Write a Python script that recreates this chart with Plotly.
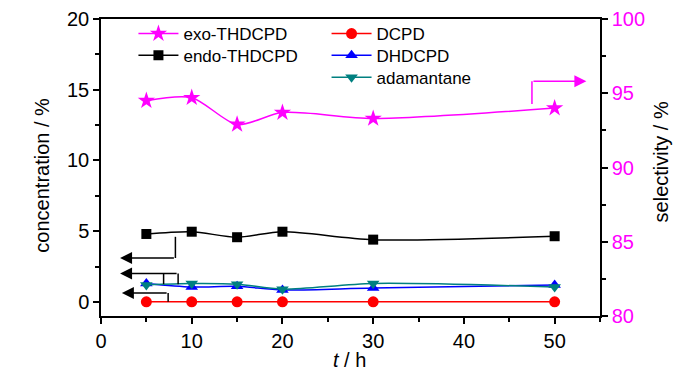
import plotly.graph_objects as go

t = [5, 10, 15, 20, 30, 50]
exo_sel = [94.5, 94.7, 92.9, 93.7, 93.3, 94.0]
endo = [4.8, 4.96, 4.57, 4.96, 4.4, 4.64]
dcpd = [0, 0, 0, 0, 0, 0]
dhdcpd = [1.3, 1.05, 1.1, 0.84, 0.98, 1.2]
adam = [1.2, 1.3, 1.25, 0.9, 1.3, 1.05]

FONT = "Liberation Sans, Arial, sans-serif"
fig = go.Figure()

def tr(y, name, color, symbol, size, legend, yaxis="y"):
    fig.add_trace(go.Scatter(
        x=t, y=y, name=name, mode="lines+markers", yaxis=yaxis, legend=legend,
        showlegend=True,
        line=dict(color=color, width=1.5, shape="spline", smoothing=0.8),
        marker=dict(symbol=symbol, size=size, color=color)))

tr(exo_sel, "exo-THDCPD", "#FF00FF", "star", 13, "legend", yaxis="y2")
tr(endo, "endo-THDCPD", "black", "square", 10, "legend2")
tr(dcpd, "DCPD", "#FF0000", "circle", 11, "legend3")
tr(dhdcpd, "DHDCPD", "#0000FF", "triangle-up", 11, "legend4")
tr(adam, "adamantane", "#008080", "triangle-down", 11, "legend5")

# connector lines
def seg(x0, y0, x1, y1, color="black", yref="y"):
    fig.add_shape(type="line", x0=x0, y0=y0, x1=x1, y1=y1, xref="x", yref=yref,
                  line=dict(color=color, width=1.5))

def arrow(x, y, ax, ay, color="black", yref="y"):
    fig.add_annotation(x=x, y=y, ax=ax, ay=ay, xref="x", yref=yref, axref="x", ayref=yref,
                       showarrow=True, arrowhead=2, arrowsize=1.6, arrowwidth=1.5,
                       arrowcolor=color, text="")

seg(8.2, 4.6, 8.2, 3.1)
arrow(2.1, 3.1, 8.2, 3.1)
seg(6.9, 2.0, 6.9, 1.25)
seg(8.5, 2.0, 8.5, 1.25)
arrow(2.1, 2.0, 8.5, 2.0)
seg(7.4, 0, 7.4, 0.63)
arrow(2.3, 0.63, 7.4, 0.63)
seg(47.5, 94.27, 47.5, 95.8, color="#FF00FF", yref="y2")
arrow(53.5, 95.8, 47.5, 95.8, color="#FF00FF", yref="y2")

# axis titles
fig.add_annotation(text="concentration / %", x=-0.12, y=0.473, xref="paper", yref="paper",
                   textangle=-90, showarrow=False, font=dict(size=20), xanchor="center", yanchor="middle")
fig.add_annotation(text="selectivity / %", x=1.122, y=0.52, xref="paper", yref="paper",
                   textangle=-90, showarrow=False, font=dict(size=20), xanchor="center", yanchor="middle")
fig.add_annotation(text="<i>t</i> / h", x=0.497, y=-0.147, xref="paper", yref="paper",
                   showarrow=False, font=dict(size=20), xanchor="center", yanchor="middle")

def minor(dtick):
    return dict(ticks="outside", ticklen=4, tickwidth=1.5, tickcolor="black", dtick=dtick)

axis_common = dict(showline=True, linecolor="black", linewidth=1.5, ticks="outside",
                   ticklen=6, tickwidth=1.5, tickcolor="black", showgrid=False, zeroline=False,
                   automargin=False)

def leg(x, y):
    return dict(x=x, y=y, xanchor="left", yanchor="top", bgcolor="rgba(0,0,0,0)",
                font=dict(size=17), tracegroupgap=0, itemwidth=40, visible=True)

fig.update_layout(
    width=692, height=366, showlegend=True,
    margin=dict(l=93, r=100, t=8, b=58),
    plot_bgcolor="white", paper_bgcolor="white",
    font=dict(family=FONT, size=17, color="black"),
    xaxis=dict(range=[0, 55], dtick=10, mirror=True, minor=minor(5),
               tickfont=dict(size=20), **axis_common),
    yaxis=dict(range=[-1, 20], tick0=0, dtick=5,
               minor=dict(ticks="outside", ticklen=4, tickwidth=1.5, tickcolor="black", dtick=2.5, tick0=0),
               tickfont=dict(size=20), **axis_common),
    yaxis2=dict(range=[80, 100], dtick=5, overlaying="y", side="right", minor=minor(2.5),
                tickfont=dict(size=20, color="#FF00FF"), **axis_common),
    legend=leg(0.065, 1.01),
    legend2=leg(0.065, 0.937),
    legend3=leg(0.452, 1.01),
    legend4=leg(0.452, 0.937),
    legend5=leg(0.452, 0.863),
)

fig.write_html("out.html")
